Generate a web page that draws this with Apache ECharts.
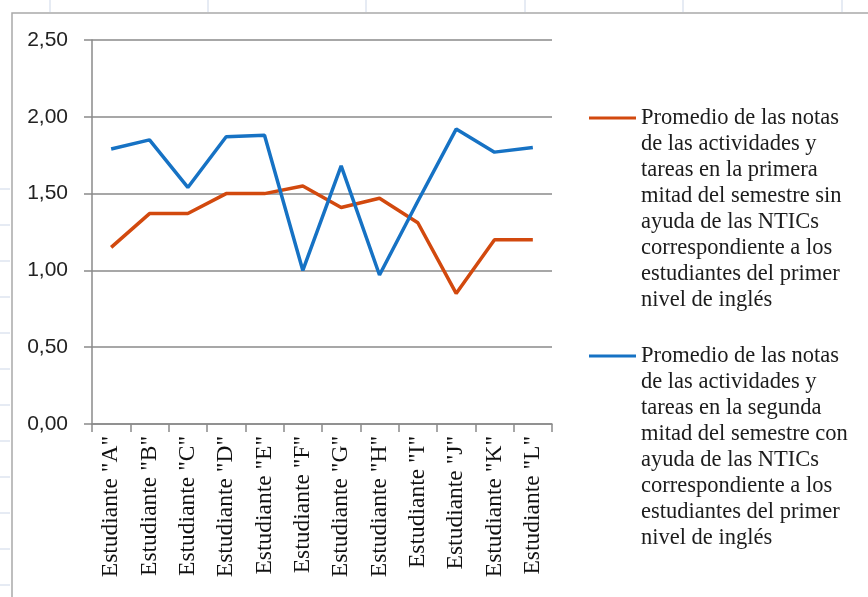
<!DOCTYPE html>
<html>
<head>
<meta charset="utf-8">
<script src="https://cdn.jsdelivr.net/npm/echarts@6/dist/echarts.min.js"></script>
<style>
  html, body { margin: 0; padding: 0; background: #ffffff; }
  #chart { width: 868px; height: 597px; }
</style>
</head>
<body>
<div id="chart"></div>
<script>
// Students on the category axis
const categories = [
  'Estudiante "A"', 'Estudiante "B"', 'Estudiante "C"', 'Estudiante "D"',
  'Estudiante "E"', 'Estudiante "F"', 'Estudiante "G"', 'Estudiante "H"',
  'Estudiante "I"', 'Estudiante "J"', 'Estudiante "K"', 'Estudiante "L"'
];

// Average marks, first half of the semester (without NTICs)
const firstHalf = [1.15, 1.37, 1.37, 1.50, 1.50, 1.55, 1.41, 1.47, 1.31, 0.85, 1.20, 1.20];

// Average marks, second half of the semester (with NTICs)
const secondHalf = [1.79, 1.85, 1.54, 1.87, 1.88, 1.00, 1.68, 0.97, 1.45, 1.92, 1.77, 1.80];

const seriesNames = [
  'Promedio de las notas de las actividades y tareas en la primera mitad del semestre sin ayuda de las NTICs correspondiente a los estudiantes del primer nivel de inglés',
  'Promedio de las notas de las actividades y tareas en la segunda mitad del semestre con ayuda de las NTICs correspondiente a los estudiantes del primer nivel de inglés'
];

// Legend text, broken into lines
const legendLines = [
  ['Promedio de las notas', 'de las actividades y', 'tareas en la primera', 'mitad del semestre sin',
   'ayuda de las NTICs', 'correspondiente a los', 'estudiantes del primer', 'nivel de inglés'],
  ['Promedio de las notas', 'de las actividades y', 'tareas en la segunda', 'mitad del semestre con',
   'ayuda de las NTICs', 'correspondiente a los', 'estudiantes del primer', 'nivel de inglés']
];

const yMin = 0, yMax = 2.5, yStep = 0.5;

const orange = '#d2490e';
const blue = '#1672c4';
const axisGray = '#8a8a8a';
const serif = '"Liberation Serif", "Times New Roman", serif';
const sans = '"Liberation Sans", Arial, sans-serif';

const legendLineHeight = 26;

// The legend text is centred on its key line, so blank lines are put
// in front of it to bring the first text line level with the key.
function makeLegend(idx, top) {
  const lines = legendLines[idx];
  const pad = new Array(lines.length - 1).fill('');
  return {
    show: true,
    data: [seriesNames[idx]],
    orient: 'vertical',
    left: 589,
    top: top,
    padding: 0,
    icon: 'rect',
    itemWidth: 47,
    itemHeight: 3,
    itemGap: 5,
    selectedMode: false,
    formatter: () => pad.concat(lines).join('\n'),
    textStyle: {
      fontFamily: serif,
      fontSize: 22.5,
      color: '#1c1c1c',
      lineHeight: legendLineHeight
    }
  };
}

// grey stubs of the surrounding sheet grid
const sheetCols = [50, 208, 366, 525, 683, 842];
const sheetRows = [189, 225, 261, 297, 333, 369, 405, 441, 477, 513, 549, 585];
const frameElems = [];
sheetCols.forEach(x => frameElems.push({
  type: 'line', shape: { x1: x, y1: 0, x2: x, y2: 12 },
  style: { stroke: '#cdd7e8', lineWidth: 1 }, silent: true
}));
sheetRows.forEach(y => frameElems.push({
  type: 'line', shape: { x1: 0, y1: y, x2: 10, y2: y },
  style: { stroke: '#cdd7e8', lineWidth: 1 }, silent: true
}));
frameElems.push({
  type: 'polyline', shape: { points: [[12, 597], [12, 13], [868, 13]] },
  style: { stroke: '#a9a9a9', lineWidth: 1.5, fill: null }, silent: true
});

const chart = echarts.init(document.getElementById('chart'), null, { renderer: 'canvas' });

chart.setOption({
  backgroundColor: '#ffffff',
  animation: false,
  graphic: { elements: frameElems },
  grid: { left: 92, right: 316, top: 40, bottom: 173, containLabel: false },
  legend: [makeLegend(0, -77), makeLegend(1, 161)],
  xAxis: {
    type: 'category',
    data: categories,
    boundaryGap: true,
    axisLine: { show: true, lineStyle: { color: axisGray, width: 1.5 } },
    axisTick: { show: true, length: 8, lineStyle: { color: axisGray, width: 1.5 } },
    axisLabel: {
      rotate: 90,
      interval: 0,
      margin: 12,
      fontFamily: serif,
      fontSize: 23.5,
      color: '#111111'
    },
    splitLine: { show: false }
  },
  yAxis: {
    type: 'value',
    min: yMin,
    max: yMax,
    interval: yStep,
    axisLine: { show: true, lineStyle: { color: axisGray, width: 1.5 } },
    axisTick: { show: true, length: 8, lineStyle: { color: axisGray, width: 1.5 } },
    axisLabel: {
      margin: 24,
      fontFamily: sans,
      fontSize: 21,
      color: '#222222',
      formatter: v => v.toFixed(2).replace('.', ',')
    },
    splitLine: { show: true, lineStyle: { color: axisGray, width: 1.5 } }
  },
  series: [
    {
      name: seriesNames[0],
      type: 'line',
      data: firstHalf,
      symbol: 'none',
      color: orange,
      lineStyle: { color: orange, width: 3.5 }
    },
    {
      name: seriesNames[1],
      type: 'line',
      data: secondHalf,
      symbol: 'none',
      color: blue,
      lineStyle: { color: blue, width: 3.5 }
    }
  ]
});
</script>
</body>
</html>
